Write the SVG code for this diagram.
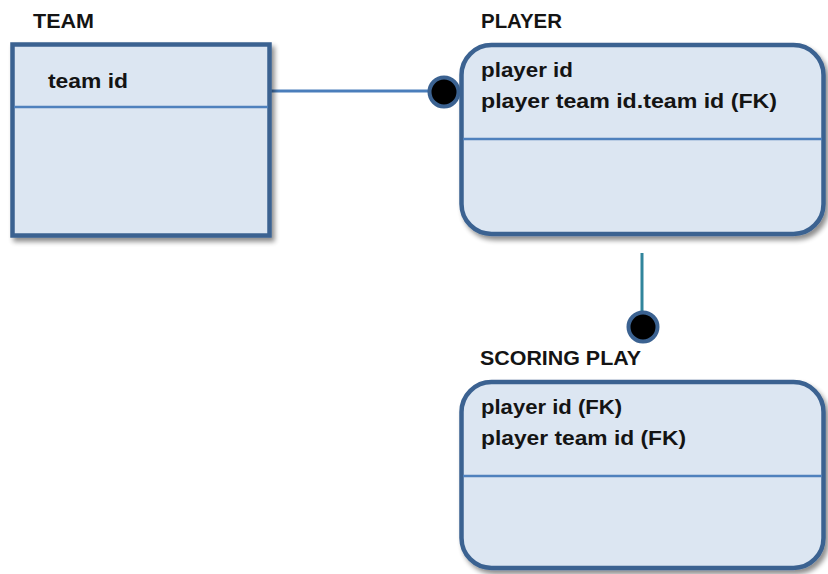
<svg xmlns="http://www.w3.org/2000/svg" width="828" height="574" viewBox="0 0 828 574">
<defs>
<style>
.box{fill:#DCE6F2;stroke:#3B6291;stroke-width:4.5;filter:url(#sh)}
.div{stroke:#4F81BD;stroke-width:2.5}
.t{font-family:"Liberation Sans",Arial,sans-serif;font-weight:bold;font-size:20px;fill:#141414}
.dot{fill:#000;stroke:#3B6291;stroke-width:4}
</style>
<filter id="sh" x="-10%" y="-10%" width="125%" height="125%">
<feGaussianBlur in="SourceAlpha" stdDeviation="2.5"/>
<feOffset dx="3" dy="4" result="b"/>
<feComponentTransfer in="b" result="c"><feFuncA type="linear" slope="0.45"/></feComponentTransfer>
<feMerge><feMergeNode in="c"/><feMergeNode in="SourceGraphic"/></feMerge>
</filter>
</defs>
<rect width="828" height="574" fill="#fff"/>
<g id="connectors">
<line x1="269" y1="91" x2="436" y2="91" stroke="#4A7EBB" stroke-width="3"/>
<circle class="dot" cx="444" cy="92" r="14.5"/>
<line x1="642" y1="253" x2="642" y2="314" stroke="#31859C" stroke-width="3"/>
<circle class="dot" cx="643" cy="327" r="14.5"/>
</g>
<g id="team">
<text class="t" x="33" y="28" textLength="61" lengthAdjust="spacingAndGlyphs">TEAM</text>
<rect class="box" x="12.5" y="44.5" width="257" height="191"/>
<line class="div" x1="14" y1="107" x2="268" y2="107"/>
<text class="t" x="48" y="88" textLength="80" lengthAdjust="spacingAndGlyphs">team id</text>
</g>
<g id="player">
<text class="t" x="481" y="28" textLength="81" lengthAdjust="spacingAndGlyphs">PLAYER</text>
<rect class="box" x="461.5" y="45" width="362" height="189" rx="30" ry="30"/>
<line class="div" x1="463" y1="139" x2="822" y2="139"/>
<text class="t" x="481" y="77" textLength="92" lengthAdjust="spacingAndGlyphs">player id</text>
<text class="t" x="481" y="108" textLength="296" lengthAdjust="spacingAndGlyphs">player team id.team id (FK)</text>
</g>
<g id="scoring-play">
<text class="t" x="480" y="365" textLength="161" lengthAdjust="spacingAndGlyphs">SCORING PLAY</text>
<rect class="box" x="461.5" y="382" width="362" height="186" rx="30" ry="30"/>
<line class="div" x1="463" y1="476" x2="822" y2="476"/>
<text class="t" x="481" y="414" textLength="141" lengthAdjust="spacingAndGlyphs">player id (FK)</text>
<text class="t" x="481" y="445" textLength="205" lengthAdjust="spacingAndGlyphs">player team id (FK)</text>
</g>
</svg>
